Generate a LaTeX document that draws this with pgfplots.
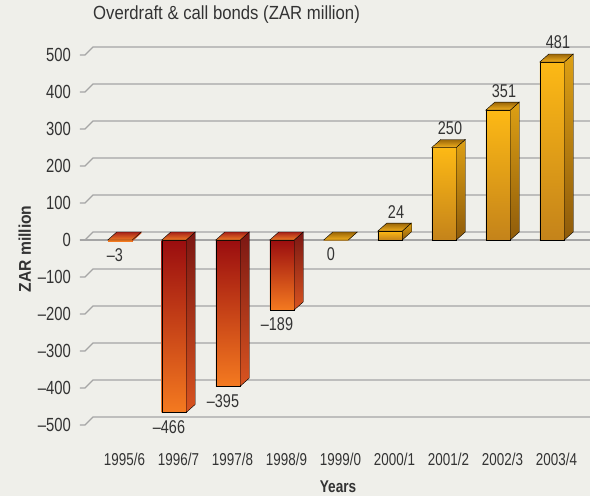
\documentclass[border=0pt]{standalone}
\usepackage{fontspec}
\setmainfont{Liberation Sans}
\newfontfamily\numf{Liberation Sans}[FakeStretch=0.78]
\newfontfamily\titf{Liberation Sans}[FakeStretch=0.88]
\newfontfamily\ylabf{Liberation Sans}[FakeStretch=0.92]
\newfontfamily\xlabf{Liberation Sans}[FakeStretch=0.80]
\usepackage{pgfplots}
\usepackage{pgfplotstable}
\pgfplotsset{compat=1.18}

\definecolor{bgc}{HTML}{EFEFEA}
\definecolor{gridc}{HTML}{A5A5A5}
\definecolor{txt}{HTML}{333333}
\definecolor{nfT}{HTML}{9A0D0F}
\definecolor{nfB}{HTML}{F47A20}
\definecolor{nsT}{HTML}{7B1713}
\definecolor{nsB}{HTML}{D85420}
\definecolor{ntT}{HTML}{A8231A}
\definecolor{ntB}{HTML}{EE7A24}
\definecolor{pfT}{HTML}{FDB915}
\definecolor{pfB}{HTML}{C4831A}
\definecolor{psT}{HTML}{DDA014}
\definecolor{psB}{HTML}{8F5B0A}
\definecolor{ptT}{HTML}{9A6608}
\definecolor{ptB}{HTML}{F2B01E}

\pgfdeclareplotmark{nothing}{}

% 3D bar drawn at each data point: front face, side face, top face, value label
\newcommand\threedbar[6]{%
  \pgfmathsetmacro\hz{-1*(\val)*0.37}%
  \pgfmathsetmacro\zt{max(0,\hz)}%
  \pgfmathsetmacro\ah{abs(\hz)}%
  \pgfmathtruncatemacro\av{abs(\val)}%
  \ifdim\ah pt<2pt
    \fill[#2] (-12.25pt,0pt) rectangle (12.25pt,\hz pt);
    \fill[#4] (12.25pt,0pt) -- (12.25pt,\hz pt) -- (21.25pt,\hz pt+8pt) -- (21.25pt,8pt) -- cycle;
  \else
    \shade[top color=#1,bottom color=#2] (-12.25pt,0pt) rectangle (12.25pt,\hz pt);
    \shade[top color=#3,bottom color=#4] (12.25pt,0pt) -- (12.25pt,\hz pt) -- (21.25pt,\hz pt+8pt) -- (21.25pt,8pt) -- cycle;
  \fi
  \shade[top color=#5,bottom color=#6] (-12.25pt,\zt pt) -- (12.25pt,\zt pt) -- (21.25pt,\zt pt+8pt) -- (-3.25pt,\zt pt+8pt) -- cycle;
  \pgfmathsetmacro\ly{(\val)>0 ? 19.5 : -14.5}%
  \pgfmathsetmacro\lx{(\val)>0 ? 6 : -5}%
  \node[font=\numf\fontsize{18.5}{20}\selectfont, text=txt, inner sep=0pt, anchor=center] at (\lx pt,\ly pt) {\ifdim\val pt<0pt –\fi\av};
}

\pgfplotstableread{
x y
0 -3
1 -466
2 -395
3 -189
}\negdata

\pgfplotstableread{
x y
4 0
5 24
6 250
7 351
8 481
}\posdata

\begin{document}
\begin{tikzpicture}
\useasboundingbox (0pt,0pt) rectangle (590pt,496pt);
\fill[bgc] (0pt,0pt) rectangle (590pt,496pt);
\begin{axis}[
  at={(80pt,56.2pt)}, anchor=south west,
  scale only axis, width=510pt, height=407pt,
  xmin=-0.7407, xmax=8.7037, ymin=-540, ymax=560,
  axis line style={draw=none}, tick style={draw=none},
  clip=false,
  ytick={-500,-400,-300,-200,-100,0,100,200,300,400,500},
  yticklabels={–500,–400,–300,–200,–100,0,100,200,300,400,500},
  yticklabel style={font=\numf\fontsize{19}{20}\selectfont, text=txt, anchor=east, inner sep=0pt, xshift=-9pt},
  xtick={0,1,2,3,4,5,6,7,8},
  xticklabels={1995/6,1996/7,1997/8,1998/9,1999/0,2000/1,2001/2,2002/3,2003/4},
  xticklabel style={font=\numf\fontsize{17.2}{18}\selectfont, text=txt, anchor=center, inner sep=0pt, yshift=-19.5pt, xshift=4.5pt},
  title={Overdraft \& call bonds (ZAR million)},
  title style={at={(axis description cs:0.0255,1.0174)}, anchor=base west, inner sep=0pt, font=\titf\fontsize{19}{20}\selectfont, text=txt},
  ylabel={ZAR million},
  ylabel style={at={(axis description cs:-0.108,0.469)}, rotate=0, anchor=center, font=\ylabf\bfseries\fontsize{17}{18}\selectfont, text=txt},
  xlabel={Years},
  xlabel style={at={(axis description cs:0.506,-0.116)}, anchor=center, font=\xlabf\bfseries\fontsize{17}{18}\selectfont, text=txt},
]
\pgfplotsinvokeforeach{-500,-400,-300,-200,-100,0,100,200,300,400,500}{
  \draw[gridc, line width=1.2pt] (axis cs:-0.7407,#1) -- ++(5pt,0pt) -- ++(8pt,8pt) -- ([yshift=8pt]axis cs:8.7037,#1);
}
\addplot[scatter, only marks, mark=nothing,
  visualization depends on={rawy \as \val},
  scatter/@pre marker code/.code={\threedbar{nfT}{nfB}{nsT}{nsB}{ntT}{ntB}},
  scatter/@post marker code/.code={}] table[x=x,y=y] {\negdata};
\addplot[scatter, only marks, mark=nothing,
  visualization depends on={rawy \as \val},
  scatter/@pre marker code/.code={\threedbar{pfT}{pfB}{psT}{psB}{ptT}{ptB}},
  scatter/@post marker code/.code={}] table[x=x,y=y] {\posdata};
\draw[gridc, line width=1.2pt] (axis cs:-0.7407,0) -- (axis cs:8.7037,0);
\end{axis}
\end{tikzpicture}
\end{document}
